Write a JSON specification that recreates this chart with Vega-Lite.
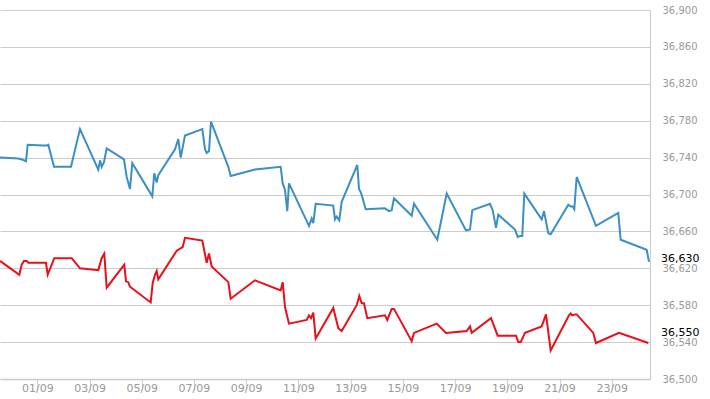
{
  "$schema": "https://vega.github.io/schema/vega-lite/v6.json",
  "width": 650,
  "height": 369,
  "autosize": "none",
  "padding": {"left": 0, "top": 10, "right": 60, "bottom": 20},
  "background": "white",
  "config": {"view": {"stroke": null}},
  "datasets": {
    "series": [
      {"s": "Series 1", "t": "2023-08-30T13:43", "v": 36740},
      {"s": "Series 1", "t": "2023-08-31T06:32", "v": 36739},
      {"s": "Series 1", "t": "2023-08-31T09:40", "v": 36738},
      {"s": "Series 1", "t": "2023-08-31T13:37", "v": 36736},
      {"s": "Series 1", "t": "2023-08-31T15:10", "v": 36754},
      {"s": "Series 1", "t": "2023-09-01T05:31", "v": 36753},
      {"s": "Series 1", "t": "2023-09-01T08:38", "v": 36753},
      {"s": "Series 1", "t": "2023-09-01T10:07", "v": 36754},
      {"s": "Series 1", "t": "2023-09-01T15:21", "v": 36730},
      {"s": "Series 1", "t": "2023-09-02T06:58", "v": 36730},
      {"s": "Series 1", "t": "2023-09-02T15:14", "v": 36771},
      {"s": "Series 1", "t": "2023-09-03T08:04", "v": 36727},
      {"s": "Series 1", "t": "2023-09-03T09:38", "v": 36737},
      {"s": "Series 1", "t": "2023-09-03T11:11", "v": 36730},
      {"s": "Series 1", "t": "2023-09-03T13:18", "v": 36735},
      {"s": "Series 1", "t": "2023-09-03T15:47", "v": 36750},
      {"s": "Series 1", "t": "2023-09-04T07:41", "v": 36738},
      {"s": "Series 1", "t": "2023-09-04T10:10", "v": 36719},
      {"s": "Series 1", "t": "2023-09-04T13:12", "v": 36706},
      {"s": "Series 1", "t": "2023-09-04T15:19", "v": 36734},
      {"s": "Series 1", "t": "2023-09-05T09:42", "v": 36698},
      {"s": "Series 1", "t": "2023-09-05T11:32", "v": 36723},
      {"s": "Series 1", "t": "2023-09-05T13:45", "v": 36713},
      {"s": "Series 1", "t": "2023-09-05T15:13", "v": 36721},
      {"s": "Series 1", "t": "2023-09-06T06:34", "v": 36749},
      {"s": "Series 1", "t": "2023-09-06T09:36", "v": 36760},
      {"s": "Series 1", "t": "2023-09-06T11:49", "v": 36740},
      {"s": "Series 1", "t": "2023-09-06T15:46", "v": 36764},
      {"s": "Series 1", "t": "2023-09-07T07:40", "v": 36771},
      {"s": "Series 1", "t": "2023-09-07T10:08", "v": 36749},
      {"s": "Series 1", "t": "2023-09-07T11:42", "v": 36745},
      {"s": "Series 1", "t": "2023-09-07T13:49", "v": 36747},
      {"s": "Series 1", "t": "2023-09-07T15:40", "v": 36779},
      {"s": "Series 1", "t": "2023-09-08T07:34", "v": 36730},
      {"s": "Series 1", "t": "2023-09-08T09:46", "v": 36720},
      {"s": "Series 1", "t": "2023-09-09T08:06", "v": 36727},
      {"s": "Series 1", "t": "2023-09-10T07:43", "v": 36730},
      {"s": "Series 1", "t": "2023-09-10T09:34", "v": 36712},
      {"s": "Series 1", "t": "2023-09-10T11:41", "v": 36705},
      {"s": "Series 1", "t": "2023-09-10T13:47", "v": 36682},
      {"s": "Series 1", "t": "2023-09-10T15:21", "v": 36712},
      {"s": "Series 1", "t": "2023-09-11T09:44", "v": 36666},
      {"s": "Series 1", "t": "2023-09-11T12:13", "v": 36674},
      {"s": "Series 1", "t": "2023-09-11T13:41", "v": 36669},
      {"s": "Series 1", "t": "2023-09-11T15:53", "v": 36690},
      {"s": "Series 1", "t": "2023-09-12T08:04", "v": 36688},
      {"s": "Series 1", "t": "2023-09-12T09:38", "v": 36673},
      {"s": "Series 1", "t": "2023-09-12T11:12", "v": 36676},
      {"s": "Series 1", "t": "2023-09-12T13:35", "v": 36672},
      {"s": "Series 1", "t": "2023-09-12T15:47", "v": 36692},
      {"s": "Series 1", "t": "2023-09-13T06:08", "v": 36732},
      {"s": "Series 1", "t": "2023-09-13T07:42", "v": 36706},
      {"s": "Series 1", "t": "2023-09-13T09:32", "v": 36702},
      {"s": "Series 1", "t": "2023-09-13T13:51", "v": 36684},
      {"s": "Series 1", "t": "2023-09-14T07:35", "v": 36685},
      {"s": "Series 1", "t": "2023-09-14T11:16", "v": 36682},
      {"s": "Series 1", "t": "2023-09-14T13:45", "v": 36683},
      {"s": "Series 1", "t": "2023-09-14T15:52", "v": 36696},
      {"s": "Series 1", "t": "2023-09-15T08:08", "v": 36677},
      {"s": "Series 1", "t": "2023-09-15T10:15", "v": 36690},
      {"s": "Series 1", "t": "2023-09-16T07:40", "v": 36651},
      {"s": "Series 1", "t": "2023-09-16T16:19", "v": 36701},
      {"s": "Series 1", "t": "2023-09-17T10:03", "v": 36661},
      {"s": "Series 1", "t": "2023-09-17T13:44", "v": 36662},
      {"s": "Series 1", "t": "2023-09-17T15:50", "v": 36683},
      {"s": "Series 1", "t": "2023-09-18T08:07", "v": 36690},
      {"s": "Series 1", "t": "2023-09-18T10:35", "v": 36683},
      {"s": "Series 1", "t": "2023-09-18T13:37", "v": 36664},
      {"s": "Series 1", "t": "2023-09-18T15:44", "v": 36678},
      {"s": "Series 1", "t": "2023-09-19T07:05", "v": 36662},
      {"s": "Series 1", "t": "2023-09-19T09:34", "v": 36654},
      {"s": "Series 1", "t": "2023-09-19T11:41", "v": 36655},
      {"s": "Series 1", "t": "2023-09-19T13:48", "v": 36655},
      {"s": "Series 1", "t": "2023-09-19T15:38", "v": 36701},
      {"s": "Series 1", "t": "2023-09-20T07:38", "v": 36673},
      {"s": "Series 1", "t": "2023-09-20T09:45", "v": 36682},
      {"s": "Series 1", "t": "2023-09-20T13:42", "v": 36658},
      {"s": "Series 1", "t": "2023-09-20T15:54", "v": 36657},
      {"s": "Series 1", "t": "2023-09-21T08:05", "v": 36689},
      {"s": "Series 1", "t": "2023-09-21T10:17", "v": 36687},
      {"s": "Series 1", "t": "2023-09-21T12:08", "v": 36687},
      {"s": "Series 1", "t": "2023-09-21T13:36", "v": 36684},
      {"s": "Series 1", "t": "2023-09-21T15:48", "v": 36719},
      {"s": "Series 1", "t": "2023-09-22T09:32", "v": 36666},
      {"s": "Series 1", "t": "2023-09-23T06:02", "v": 36680},
      {"s": "Series 1", "t": "2023-09-23T08:14", "v": 36651},
      {"s": "Series 1", "t": "2023-09-24T08:08", "v": 36640},
      {"s": "Series 1", "t": "2023-09-24T10:16", "v": 36627},
      {"s": "Series 2", "t": "2023-08-30T13:43", "v": 36628},
      {"s": "Series 2", "t": "2023-08-31T07:27", "v": 36613},
      {"s": "Series 2", "t": "2023-08-31T09:40", "v": 36624},
      {"s": "Series 2", "t": "2023-08-31T11:46", "v": 36628},
      {"s": "Series 2", "t": "2023-08-31T14:15", "v": 36628},
      {"s": "Series 2", "t": "2023-08-31T15:43", "v": 36626},
      {"s": "Series 2", "t": "2023-09-01T07:59", "v": 36626},
      {"s": "Series 2", "t": "2023-09-01T09:34", "v": 36613},
      {"s": "Series 2", "t": "2023-09-01T15:37", "v": 36631},
      {"s": "Series 2", "t": "2023-09-02T07:37", "v": 36631},
      {"s": "Series 2", "t": "2023-09-02T15:14", "v": 36620},
      {"s": "Series 2", "t": "2023-09-03T08:04", "v": 36618},
      {"s": "Series 2", "t": "2023-09-03T11:11", "v": 36631},
      {"s": "Series 2", "t": "2023-09-03T13:35", "v": 36636},
      {"s": "Series 2", "t": "2023-09-03T15:47", "v": 36599},
      {"s": "Series 2", "t": "2023-09-04T07:58", "v": 36624},
      {"s": "Series 2", "t": "2023-09-04T09:32", "v": 36606},
      {"s": "Series 2", "t": "2023-09-04T11:38", "v": 36605},
      {"s": "Series 2", "t": "2023-09-04T13:12", "v": 36600},
      {"s": "Series 2", "t": "2023-09-05T08:14", "v": 36583},
      {"s": "Series 2", "t": "2023-09-05T10:04", "v": 36604},
      {"s": "Series 2", "t": "2023-09-05T12:11", "v": 36613},
      {"s": "Series 2", "t": "2023-09-05T13:45", "v": 36617},
      {"s": "Series 2", "t": "2023-09-05T15:13", "v": 36608},
      {"s": "Series 2", "t": "2023-09-06T08:08", "v": 36639},
      {"s": "Series 2", "t": "2023-09-06T13:38", "v": 36643},
      {"s": "Series 2", "t": "2023-09-06T15:46", "v": 36653},
      {"s": "Series 2", "t": "2023-09-07T07:40", "v": 36650},
      {"s": "Series 2", "t": "2023-09-07T11:42", "v": 36626},
      {"s": "Series 2", "t": "2023-09-07T13:49", "v": 36636},
      {"s": "Series 2", "t": "2023-09-07T16:18", "v": 36622},
      {"s": "Series 2", "t": "2023-09-08T07:34", "v": 36605},
      {"s": "Series 2", "t": "2023-09-08T09:46", "v": 36587},
      {"s": "Series 2", "t": "2023-09-09T08:06", "v": 36607},
      {"s": "Series 2", "t": "2023-09-10T07:43", "v": 36596},
      {"s": "Series 2", "t": "2023-09-10T09:34", "v": 36605},
      {"s": "Series 2", "t": "2023-09-10T11:41", "v": 36578},
      {"s": "Series 2", "t": "2023-09-10T15:21", "v": 36560},
      {"s": "Series 2", "t": "2023-09-11T07:37", "v": 36564},
      {"s": "Series 2", "t": "2023-09-11T09:44", "v": 36569},
      {"s": "Series 2", "t": "2023-09-11T11:35", "v": 36566},
      {"s": "Series 2", "t": "2023-09-11T13:41", "v": 36572},
      {"s": "Series 2", "t": "2023-09-11T15:53", "v": 36544},
      {"s": "Series 2", "t": "2023-09-12T08:04", "v": 36577},
      {"s": "Series 2", "t": "2023-09-12T12:40", "v": 36555},
      {"s": "Series 2", "t": "2023-09-12T15:47", "v": 36552},
      {"s": "Series 2", "t": "2023-09-13T05:35", "v": 36580},
      {"s": "Series 2", "t": "2023-09-13T07:58", "v": 36590},
      {"s": "Series 2", "t": "2023-09-13T10:11", "v": 36582},
      {"s": "Series 2", "t": "2023-09-13T12:17", "v": 36582},
      {"s": "Series 2", "t": "2023-09-13T15:19", "v": 36566},
      {"s": "Series 2", "t": "2023-09-14T07:35", "v": 36569},
      {"s": "Series 2", "t": "2023-09-14T09:43", "v": 36564},
      {"s": "Series 2", "t": "2023-09-14T13:45", "v": 36576},
      {"s": "Series 2", "t": "2023-09-14T15:52", "v": 36576},
      {"s": "Series 2", "t": "2023-09-15T08:08", "v": 36541},
      {"s": "Series 2", "t": "2023-09-15T10:15", "v": 36550},
      {"s": "Series 2", "t": "2023-09-16T07:07", "v": 36560},
      {"s": "Series 2", "t": "2023-09-16T15:40", "v": 36550},
      {"s": "Series 2", "t": "2023-09-17T10:41", "v": 36552},
      {"s": "Series 2", "t": "2023-09-17T13:44", "v": 36557},
      {"s": "Series 2", "t": "2023-09-17T15:17", "v": 36550},
      {"s": "Series 2", "t": "2023-09-18T09:02", "v": 36566},
      {"s": "Series 2", "t": "2023-09-18T15:11", "v": 36547},
      {"s": "Series 2", "t": "2023-09-19T08:01", "v": 36547},
      {"s": "Series 2", "t": "2023-09-19T10:07", "v": 36540},
      {"s": "Series 2", "t": "2023-09-19T12:20", "v": 36540},
      {"s": "Series 2", "t": "2023-09-19T16:17", "v": 36550},
      {"s": "Series 2", "t": "2023-09-20T07:38", "v": 36557},
      {"s": "Series 2", "t": "2023-09-20T11:35", "v": 36570},
      {"s": "Series 2", "t": "2023-09-20T15:54", "v": 36531},
      {"s": "Series 2", "t": "2023-09-21T08:43", "v": 36569},
      {"s": "Series 2", "t": "2023-09-21T10:17", "v": 36571},
      {"s": "Series 2", "t": "2023-09-21T11:46", "v": 36569},
      {"s": "Series 2", "t": "2023-09-21T14:14", "v": 36570},
      {"s": "Series 2", "t": "2023-09-21T15:48", "v": 36570},
      {"s": "Series 2", "t": "2023-09-22T07:04", "v": 36550},
      {"s": "Series 2", "t": "2023-09-22T09:32", "v": 36539},
      {"s": "Series 2", "t": "2023-09-23T06:41", "v": 36550},
      {"s": "Series 2", "t": "2023-09-24T09:37", "v": 36539}
    ],
    "last": [
      {"label": "36,630", "t": "2023-09-24T11:11", "v": 36630},
      {"label": "36,550", "t": "2023-09-24T11:11", "v": 36550}
    ]
  },
  "layer": [
    {
      "data": {"name": "series"},
      "mark": {"type": "line", "strokeWidth": 2, "clip": true, "strokeJoin": "miter"},
      "encoding": {
        "x": {
          "field": "t",
          "type": "temporal",
          "scale": {
            "domain": [
              {"year": 2023, "month": "Aug", "date": 30, "hours": 13, "minutes": 43},
              {"year": 2023, "month": "Sep", "date": 24, "hours": 11, "minutes": 11}
            ]
          },
          "axis": {
            "title": null,
            "format": "%d/%m",
            "tickCount": 30,
            "values": [
              {"year": 2023, "month": "Sep", "date": 1},
              {"year": 2023, "month": "Sep", "date": 3},
              {"year": 2023, "month": "Sep", "date": 5},
              {"year": 2023, "month": "Sep", "date": 7},
              {"year": 2023, "month": "Sep", "date": 9},
              {"year": 2023, "month": "Sep", "date": 11},
              {"year": 2023, "month": "Sep", "date": 13},
              {"year": 2023, "month": "Sep", "date": 15},
              {"year": 2023, "month": "Sep", "date": 17},
              {"year": 2023, "month": "Sep", "date": 19},
              {"year": 2023, "month": "Sep", "date": 21},
              {"year": 2023, "month": "Sep", "date": 23}
            ],
            "grid": false,
            "domain": true,
            "domainColor": "#cccccc",
            "domainWidth": 1.5,
            "ticks": true,
            "tickSize": 11,
            "tickColor": "#d0d0d0",
            "labelPadding": -8,
            "labelFont": "DejaVu Sans",
            "labelFontSize": 11,
            "labelColor": "#999999",
            "labelOverlap": false,
            "labelFlush": false,
            "labelBound": false
          }
        },
        "y": {
          "field": "v",
          "type": "quantitative",
          "scale": {"domain": [36500, 36900], "zero": false, "nice": false},
          "axis": {
            "title": null,
            "orient": "right",
            "tickCount": 30,
            "values": [36500, 36540, 36580, 36620, 36660, 36700, 36740, 36780, 36820, 36860, 36900],
            "format": ",d",
            "grid": true,
            "gridColor": "#cccccc",
            "gridWidth": 1,
            "domain": true,
            "domainColor": "#cccccc",
            "ticks": false,
            "labelPadding": 12,
            "labelFont": "DejaVu Sans",
            "labelFontSize": 10,
            "labelColor": "#999999",
            "labelOverlap": false
          }
        },
        "color": {
          "field": "s",
          "type": "nominal",
          "scale": {"domain": ["Series 1", "Series 2"], "range": ["#3b8fc5", "#e8101a"]},
          "legend": null
        }
      }
    },
    {
      "data": {"name": "last"},
      "mark": {"type": "text", "align": "left", "baseline": "middle", "dx": 11, "font": "DejaVu Sans", "fontSize": 11, "color": "#000000"},
      "encoding": {
        "x": {"field": "t", "type": "temporal"},
        "y": {"field": "v", "type": "quantitative"},
        "text": {"field": "label"}
      }
    }
  ]
}
